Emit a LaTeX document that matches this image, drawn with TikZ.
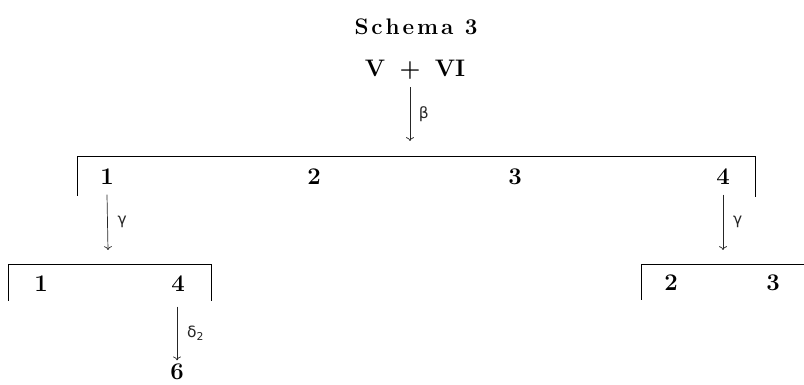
\documentclass[tikz,border=0pt]{standalone}
\usepackage{fontspec}
\newfontfamily\greekfont{DejaVu Sans}
\usetikzlibrary{arrows.meta, positioning, calc}
\newcommand{\spaced}[1]{\def\sp{\hspace{0.13em}}#1}
\tikzset{
    >=To,
    % Texts
    title/.style={font=\fontsize{16}{18}\selectfont\bfseries, inner sep=0pt},
    num/.style={font=\fontsize{17}{19}\selectfont\bfseries, inner sep=1pt},
    greek/.style={font=\fontsize{11}{13}\selectfont\greekfont, inner sep=1pt},
    % Lines
    bar/.style={line width=0.6pt, black},
    flow/.style={->, line width=0.5pt, black!85}
}

\begin{document}
\begin{tikzpicture}[x=0.025cm, y=-0.025cm]
\useasboundingbox (0,0) rectangle (804,385);

\node[title] (title) at (416,27) {\spaced{S\sp c\sp h\sp e\sp m\sp a\sp\ 3}};
\node[num] (vvi) at (415,70) {V\hspace{0.6em}+\hspace{0.6em}VI};

% main bracket
\coordinate (mainL) at (77,156);
\coordinate (mainR) at (755,156);
\coordinate (mainC) at (410,156);
\draw[bar] (mainL) ++(0,40) -- (mainL) -- (mainR) -- ++(0,41);
\node[num] (m1) at (107,177) {1};
\node[num] (m2) at (314,177) {2};
\node[num] (m3) at (515,177) {3};
\node[num] (m4) at (723,177) {4};

% left bracket
\coordinate (leftL) at (8,264);
\coordinate (leftR) at (211,264);
\coordinate (leftC) at (108,264);
\draw[bar] (leftL) ++(0,37) -- (leftL) -- (leftR) -- ++(0,37);
\node[num] (l1) at (41,284) {1};
\node[num] (l4) at (178,284) {4};

% right bracket
\coordinate (rightL) at (641,264);
\coordinate (rightR) at (804,264);
\coordinate (rightC) at (723,264);
\draw[bar] (rightL) ++(0,36) -- (rightL) -- (rightR);
\node[num] (r2) at (671,283) {2};
\node[num] (r3) at (773,283) {3};

\node[num] (six) at (177,372) {6};

% arrows
\draw[flow] (vvi.south -| mainC) ++(0,6) -- node[greek, right=5pt] {β} ($(mainC)+(0,-15)$);
\draw[flow] (m1.south) ++(0,8) -- node[greek, right=6pt] {γ} ($(leftC)+(0,-14)$);
\draw[flow] (m4.south) ++(0,8) -- node[greek, right=6pt] {γ} ($(rightC)+(0,-14)$);
\draw[flow] (l4.south) ++(-1,13) -- node[greek, right=6pt] {δ\textsubscript{2}} ($(six.north)+(0,-2)$);

\end{tikzpicture}
\end{document}
